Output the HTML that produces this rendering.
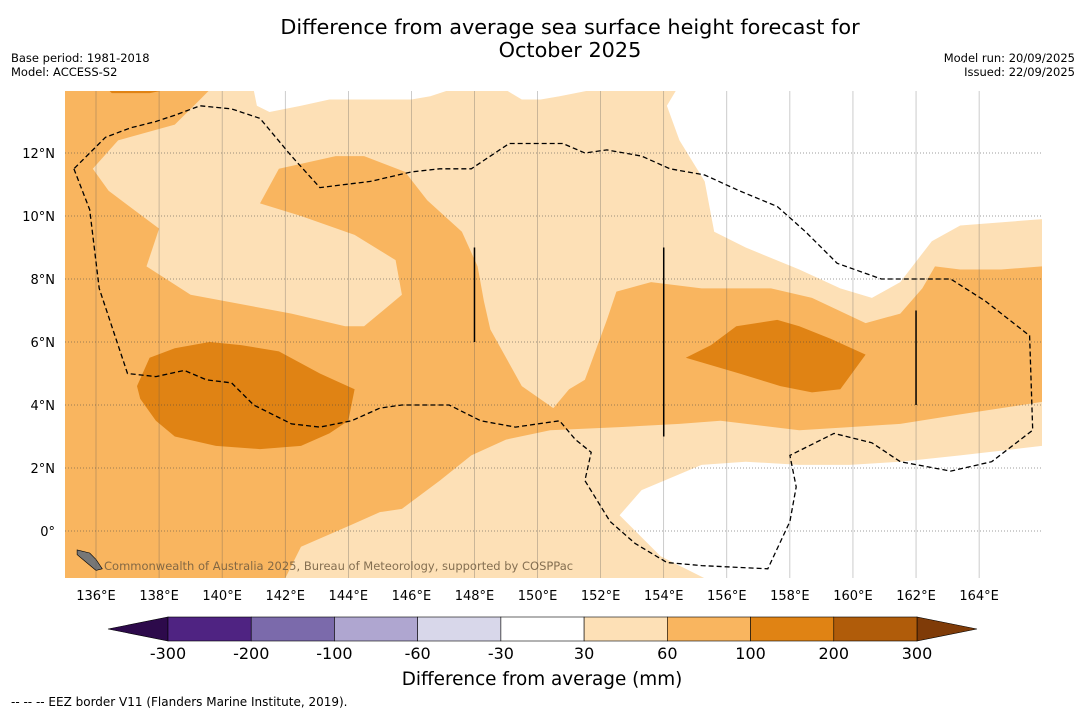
<!DOCTYPE html>
<html><head><meta charset="utf-8"><style>
html,body{margin:0;padding:0;background:#fff;}
svg{display:block;font-family:"DejaVu Sans","Liberation Sans",sans-serif;}
</style></head><body>
<svg id="c" width="1085" height="713" viewBox="0 0 1085 713" xmlns="http://www.w3.org/2000/svg">
<defs><clipPath id="mc"><rect x="65" y="91" width="977" height="487"/></clipPath></defs>
<text x="570" y="34" text-anchor="middle" font-size="20.8">Difference from average sea surface height forecast for</text>
<text x="570" y="57" text-anchor="middle" font-size="20.8">October 2025</text>
<text x="11" y="62" font-size="11.5">Base period: 1981-2018</text>
<text x="11" y="76" font-size="11.5">Model: ACCESS-S2</text>
<text x="1075" y="62" font-size="11.5" text-anchor="end">Model run: 20/09/2025</text>
<text x="1075" y="76" font-size="11.5" text-anchor="end">Issued: 22/09/2025</text>
<g id="map" clip-path="url(#mc)"></g>
<g id="axes"></g>
<g id="cbar"></g>
<text x="542" y="685" text-anchor="middle" font-size="18.4">Difference from average (mm)</text>
<text x="11" y="706" font-size="12">--  --  -- EEZ border V11 (Flanders Marine Institute, 2019).</text>
</svg>
<script>
const lonTicks=[136,138,140,142,144,146,148,150,152,154,156,158,160,162,164];
const latTicks=[12,10,8,6,4,2,0];
const lightRegion=[[139.6,14],[139.3,13.7],[138.5,12.9],[136.7,12.4],[135.9,11.5],[136.4,10.8],[138.0,9.6],[137.6,8.4],[139.0,7.5],[142.2,6.9],[143.9,6.5],[144.5,6.5],[145.7,7.5],[145.5,8.6],[144.2,9.4],[142.5,10.0],[141.2,10.4],[141.8,11.5],[143.6,11.9],[144.5,11.9],[145.8,11.4],[146.5,10.5],[147.6,9.5],[148.1,8.4],[148.3,7.3],[148.5,6.4],[149.5,4.6],[150.5,3.9],[151.0,4.5],[151.5,4.8],[152.2,6.7],[152.5,7.6],[153.6,7.9],[155.2,7.7],[157.4,7.7],[158.7,7.4],[160.4,6.6],[161.5,6.9],[162.2,7.7],[162.6,8.4],[163.4,8.3],[164.7,8.3],[166,8.4],[166,14]];
const whiteTopRight=[[154.4,14],[154.1,13.5],[154.5,12.4],[155.3,11.1],[155.6,9.5],[156.6,9.0],[158.3,8.3],[159.6,7.7],[160.6,7.4],[161.5,7.9],[162.5,9.2],[163.4,9.7],[166,9.9],[166,14]];
const whiteTopGap1=[[141.0,14],[141.1,13.5],[141.5,13.3],[142.5,13.5],[143.4,13.7],[144.7,13.7],[146.0,13.7],[146.6,13.8],[147.2,14]];
const whiteTopGap2=[[149.0,14],[149.5,13.7],[150.1,13.7],[150.7,13.8],[151.7,14]];
const lightBottom=[[142.0,-1.5],[142.5,-0.5],[144.1,0.2],[145.0,0.6],[145.7,0.7],[146.9,1.6],[147.9,2.4],[149.0,2.9],[150.4,3.2],[152.6,3.3],[154.5,3.4],[155.8,3.5],[158.3,3.2],[159.9,3.3],[161.5,3.4],[163.4,3.7],[166,4.1],[166,-1.5]];
const whiteBottom=[[152.6,0.5],[153.3,1.3],[155.2,2.1],[156.6,2.2],[158.3,2.1],[159.9,2.1],[161.5,2.2],[163.4,2.4],[166,2.7],[166,-1.5],[155.3,-1.5],[153.9,-0.8]];
const darkLeft=[[137.7,5.5],[138.5,5.8],[139.6,6.0],[140.6,5.9],[141.8,5.7],[143.1,5.0],[144.2,4.5],[144.0,3.5],[143.4,3.1],[142.5,2.7],[141.2,2.6],[139.8,2.7],[138.5,3.0],[137.9,3.5],[137.4,4.2],[137.3,4.6]];
const darkRight=[[154.7,5.5],[155.5,5.9],[156.3,6.5],[157.6,6.7],[158.3,6.5],[159.3,6.1],[160.4,5.6],[159.6,4.5],[158.7,4.4],[157.7,4.6],[156.4,5.0]];
const darkTop=[[136.4,14],[136.5,13.9],[137.7,13.9],[138.2,14]];
const eezLine=[[135.3,11.5],[135.8,10.2],[136.1,7.7],[137.0,5.0],[137.9,4.9],[138.8,5.1],[139.5,4.8],[140.3,4.7],[141.0,4.0],[142.2,3.4],[143.1,3.3],[144.1,3.5],[145.0,3.9],[145.7,4.0],[147.2,4.0],[148.2,3.5],[149.3,3.3],[150.7,3.5],[151.2,2.9],[151.7,2.5],[151.5,1.6],[152.3,0.3],[153.1,-0.4],[154.1,-1.0],[155.2,-1.1],[157.3,-1.2],[158.0,0.3],[158.2,1.4],[158.0,2.4],[159.4,3.1],[160.6,2.8],[161.5,2.2],[163.1,1.9],[164.4,2.2],[165.7,3.2],[165.6,6.2],[164.2,7.3],[163.1,8.0],[160.9,8.0],[159.5,8.5],[158.5,9.5],[157.6,10.3],[156.4,10.8],[155.3,11.3],[154.2,11.5],[153.3,11.9],[152.2,12.1],[151.5,12.0],[150.8,12.3],[150.1,12.3],[149.1,12.3],[147.9,11.5],[146.9,11.5],[146.0,11.4],[144.7,11.1],[143.1,10.9],[142.2,11.9],[141.2,13.1],[140.3,13.4],[139.3,13.5],[138.5,13.2],[137.9,13.0],[137.1,12.8],[136.3,12.5],[135.3,11.5]];
const eezSegments=[[148,9,6],[154,9,3],[162,7,4]];
const islandSW=[[135.4,-0.6],[135.8,-0.7],[136.0,-0.9],[136.2,-1.2],[136.0,-1.25],[135.7,-1.0],[135.4,-0.75]];
const cbLevels=[-300,-200,-100,-60,-30,30,60,100,200,300];
const cbColors=["#4f2382","#7b6aab","#afa6d0","#d8d7ea","#ffffff","#fde0b6","#f9b55f","#e08314","#b05c0a"];
const cbLow="#2d0a4b", cbHigh="#7f3b08";

const NS="http://www.w3.org/2000/svg";
const X=lon=>96+(lon-136)*31.54;
const Y=lat=>531-lat*31.5;
function mk(tag,parent,attrs){const e=document.createElementNS(NS,tag);for(const k in attrs)e.setAttribute(k,attrs[k]);parent.appendChild(e);return e;}
const pts=a=>a.map(p=>X(p[0]).toFixed(1)+","+Y(p[1]).toFixed(1)).join(" ");
const map=document.getElementById("map");
let e=mk("rect",map,{x:65,y:91,width:977,height:487,fill:"#f9b55f"});


const polys=[[lightRegion,"#fde0b6","light-region-upper"],[whiteTopRight,"#ffffff","white-region-top-right"],[whiteTopGap1,"#ffffff","white-region-top-1"],[whiteTopGap2,"#ffffff","white-region-top-2"],[lightBottom,"#fde0b6","light-region-lower"],[whiteBottom,"#ffffff","white-region-bottom"],[darkLeft,"#e08314","dark-region-west"],[darkRight,"#e08314","dark-region-east"],[darkTop,"#e08314","dark-region-top"]];
for(const [d,c,n] of polys){
  e=mk("polygon",map,{points:pts(d),fill:c});
  
  
}
e=mk("polygon",map,{points:pts(islandSW),fill:"#777",stroke:"#000","stroke-width":0.6});


for(const lon of lonTicks){
  e=mk("line",map,{x1:X(lon),x2:X(lon),y1:91,y2:578,stroke:"#555","stroke-width":0.6,"stroke-opacity":0.5});
  
  
}
for(const lat of latTicks){
  e=mk("line",map,{x1:65,x2:1042,y1:Y(lat),y2:Y(lat),stroke:"#444","stroke-width":0.7,"stroke-dasharray":"1,2","stroke-opacity":0.7});
  
  
}
e=mk("polyline",map,{points:pts(eezLine),fill:"none",stroke:"#000","stroke-width":1.3,"stroke-dasharray":"5,3"});


for(const s of eezSegments){
  e=mk("line",map,{x1:X(s[0]),x2:X(s[0]),y1:Y(s[1]),y2:Y(s[2]),stroke:"#000","stroke-width":1.5});
  
  
}
e=mk("text",map,{x:104,y:570,"font-size":11.5,fill:"#6e5a40","fill-opacity":0.85});
e.textContent="Commonwealth of Australia 2025, Bureau of Meteorology, supported by COSPPac";


const axes=document.getElementById("axes");
for(const lon of lonTicks){
  e=mk("text",axes,{x:X(lon),y:600,"font-size":13,"text-anchor":"middle"});
  e.textContent=lon+"°E";
  
  
}
for(const lat of latTicks){
  e=mk("text",axes,{x:55,y:Y(lat)+5,"font-size":13,"text-anchor":"end"});
  e.textContent=lat===0?"0°":lat+"°N";
  
  
}
const cb=document.getElementById("cbar");
const cx0=168,cx1=917,cy=617,ch=24,sw=(cx1-cx0)/cbColors.length;
e=mk("polygon",cb,{points:`108,${cy+ch/2} ${cx0},${cy} ${cx0},${cy+ch}`,fill:cbLow,stroke:"#000","stroke-width":0.6});


e=mk("polygon",cb,{points:`977,${cy+ch/2} ${cx1},${cy} ${cx1},${cy+ch}`,fill:cbHigh,stroke:"#000","stroke-width":0.6});


cbColors.forEach((c,i)=>{
  e=mk("rect",cb,{x:cx0+i*sw,y:cy,width:sw,height:ch,fill:c,stroke:"#000","stroke-width":0.6});
  
  
});
cbLevels.forEach((v,i)=>{
  e=mk("text",cb,{x:cx0+i*sw,y:659,"font-size":16,"text-anchor":"middle"});
  e.textContent=v;
  
  
});
</script>
</body></html>
